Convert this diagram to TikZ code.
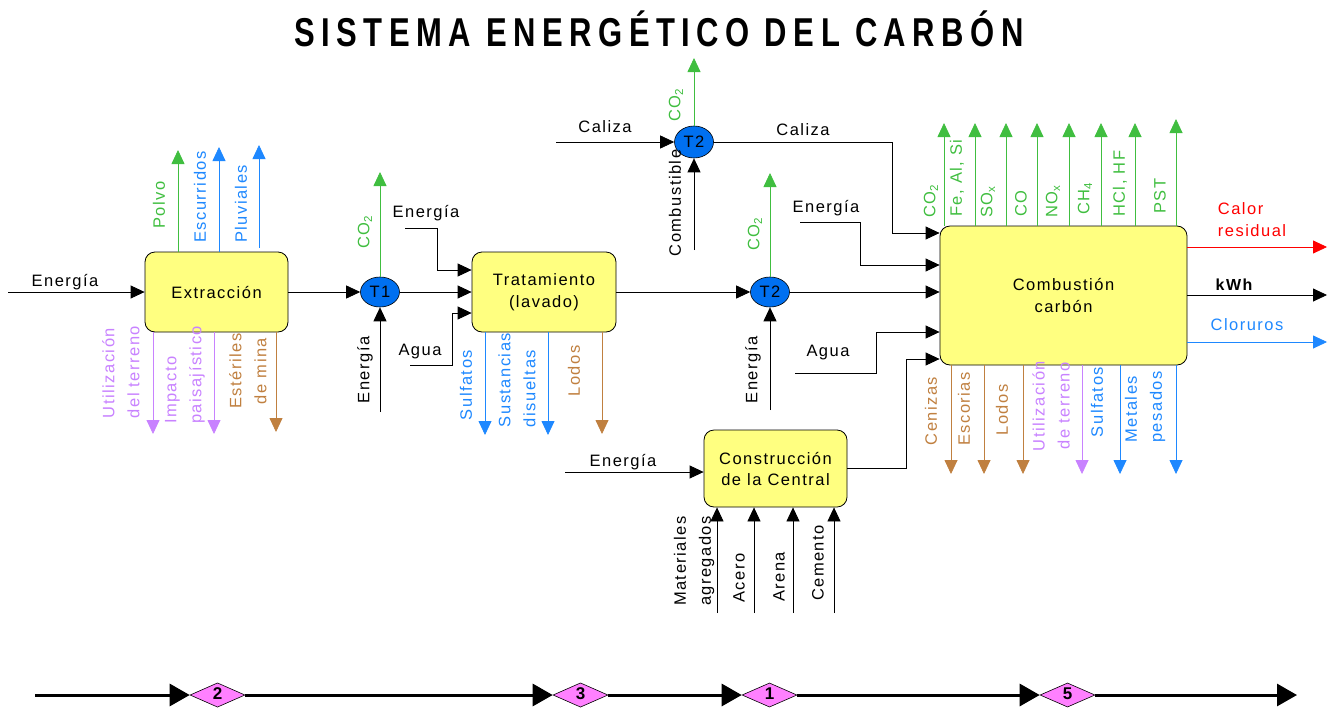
\documentclass[tikz,border=0pt]{standalone}
\usepackage{fontspec}
\setmainfont{Liberation Sans}[LetterSpace=9]
\newfontfamily\titlefont{Liberation Sans}[LetterSpace=21]
\usetikzlibrary{arrows.meta,shapes.geometric}
\definecolor{cgreen}{RGB}{64,190,64}
\definecolor{cblue}{RGB}{30,136,255}
\definecolor{cpurple}{RGB}{200,130,255}
\definecolor{cbrown}{RGB}{192,128,64}
\definecolor{cred}{RGB}{255,0,0}
\definecolor{boxyellow}{RGB}{255,255,128}
\definecolor{tblue}{RGB}{0,112,240}
\definecolor{dmag}{RGB}{255,128,255}
\begin{document}
\begin{tikzpicture}[x=1pt,y=-1pt,
  every node/.style={font=\fontsize{16.5}{22}\selectfont, inner sep=0pt},
  proc/.style={draw=black, fill=boxyellow, rounded corners=10pt, line width=0.8pt, align=center},
  tnode/.style={ellipse, draw=black, fill=tblue, minimum width=39pt, minimum height=30pt, line width=0.6pt},
  ar/.style={-{Triangle[length=14pt,width=13pt]}, line width=0.8pt},
  vl/.style={rotate=90, font=\fontsize{16.5}{25}\selectfont},
  dia/.style={diamond, draw=black, fill=dmag, minimum width=55pt, minimum height=22pt, line width=0.6pt, font=\fontsize{17}{17}\selectfont\bfseries},
  tl/.style={line width=3pt, -{Triangle[length=20pt,width=22pt]}}
]
\useasboundingbox (0,0) rectangle (1340,707);

% title
\node (title) at (659,29) {\scalebox{1}[1.3]{\titlefont\fontsize{31}{31}\selectfont\bfseries SISTEMA ENERGÉTICO DEL CARBÓN}};

% ---------------- Extraccion
\node[proc, minimum width=143pt, minimum height=80pt] (ext) at (216.5,292) {Extracción};
\coordinate (e_in) at (8,292);
\draw[ar] (e_in) -- (ext.west);
\node (l_e_in) at (65,282) {Energía};

\coordinate (polvo) at (178,150);
\coordinate (escu) at (219,147);
\coordinate (pluv) at (259,145);
\draw[ar,cgreen] (polvo |- ext.north) -- (polvo);
\draw[ar,cblue] (escu |- ext.north) -- (escu);
\draw[ar,cblue] ([yshift=4pt]pluv |- ext.north) -- (pluv);
\node[vl,text=cgreen] (l_polvo) at (159,205) {Polvo};
\node[vl,text=cblue] (l_escu) at (200,197) {Escurridos};
\node[vl,text=cblue] (l_pluv) at (241,204) {Pluviales};

\coordinate (utter) at (153,434);
\coordinate (impac) at (214,434);
\coordinate (ester) at (276,432);
\draw[ar,cpurple] (utter |- ext.south) -- (utter);
\draw[ar,cpurple] (impac |- ext.south) -- (impac);
\draw[ar,cbrown] (ester |- ext.south) -- (ester);
\node[vl,text=cpurple,align=left] (l_utter) at (121,372) {Utilización\\del terreno};
\node[vl,text=cpurple,align=left] (l_impac) at (185,375) {Impacto\\paisajístico};
\node[vl,text=cbrown,align=center] (l_ester) at (248,371) {Estériles\\de mina};

% ---------------- T1
\node[tnode] (t1) at (380,292) {T1};
\draw[ar] (ext.east) -- (t1.west);
\coordinate (t1co2) at (380,172);
\draw[ar,cgreen] (t1.north) -- (t1co2);
\node[vl,text=cgreen] (l_t1co2) at (365,232) {CO\textsubscript{2}};
\coordinate (t1e) at (380,412);
\draw[ar] (t1e) -- (t1.south);
\node[vl] (l_t1e) at (365,370) {Energía};

% ---------------- Tratamiento
\node[proc, minimum width=144pt, minimum height=80pt] (trat) at (544,292) {Tratamiento\\(lavado)};
\draw[ar] (t1.east) -- (trat.west);
\coordinate (tre) at (405,228);
\draw[ar] (tre) -- ++(32,0) |- ([yshift=22pt]trat.west);
\node (l_tre) at (426,213) {Energía};
\coordinate (tra) at (410,365);
\draw[ar] (tra) -- ++(42,0) |- ([yshift=-21pt]trat.west);
\node (l_tra) at (420,352) {Agua};

\coordinate (sulf1) at (485,435);
\coordinate (sust) at (548,435);
\coordinate (lodo1) at (602,434);
\draw[ar,cblue] (sulf1 |- trat.south) -- (sulf1);
\draw[ar,cblue] (sust |- trat.south) -- (sust);
\draw[ar,cbrown] (lodo1 |- trat.south) -- (lodo1);
\node[vl,text=cblue] (l_sulf1) at (466,385) {Sulfatos};
\node[vl,text=cblue,align=left] (l_sust) at (517,380) {Sustancias\\disueltas};
\node[vl,text=cbrown] (l_lodo1) at (574,371) {Lodos};

% ---------------- T2 middle
\node[tnode] (t2m) at (770,292) {T2};
\draw[ar] (trat.east) -- (t2m.west);
\coordinate (t2co2) at (770,173);
\draw[ar,cgreen] (t2m.north) -- (t2co2);
\node[vl,text=cgreen] (l_t2co2) at (755,234) {CO\textsubscript{2}};
\coordinate (t2e) at (770,410);
\draw[ar] (t2e) -- (t2m.south);
\node[vl] (l_t2e) at (753,370) {Energía};

% ---------------- T2 top
\node[tnode, minimum height=32pt] (t2t) at (694,142) {T2};
\coordinate (cal) at (556,142);
\draw[ar] (cal) -- (t2t.west);
\node (l_cal) at (605,127) {Caliza};
\coordinate (t3co2) at (694,58);
\draw[ar,cgreen] (t2t.north) -- (t3co2);
\node[vl,text=cgreen] (l_t3co2) at (676,105) {CO\textsubscript{2}};
\coordinate (comb_in) at (694,250);
\draw[ar] (comb_in) -- (t2t.south);
\node[vl] (l_comb_in) at (675,203) {Combustible};

% ---------------- Combustion
\node[proc, minimum width=247pt, minimum height=139pt] (comb) at (1063.5,295.5) {Combustión\\carbón};
\draw[ar] (t2m.east) -- (t2m -| comb.west);
\draw[ar] (t2t.east) -- ++(179,0) |- ([yshift=62.5pt]comb.west);
\node (l_cal2) at (803,130) {Caliza};
\coordinate (ce) at (800,222);
\draw[ar] (ce) -- ++(60,0) |- ([yshift=30.5pt]comb.west);
\node (l_ce) at (826,208) {Energía};
\coordinate (ca) at (795,373);
\draw[ar] (ca) -- ++(81,0) |- ([yshift=-36.5pt]comb.west);
\node (l_ca) at (828,353) {Agua};

% top emissions
\foreach \n/\x/\t in {a/944/123,b/975/123,c/1006/123,d/1037/123,e/1069/123,f/1101/123,g/1135/123,h/1176/119}{
  \coordinate (em\n) at (\x,\t);
  \draw[ar,cgreen] (em\n |- comb.north) -- (em\n);
}
\node[vl,text=cgreen,anchor=west] (l_ema) at (931,218) {CO\textsubscript{2}};
\node[vl,text=cgreen,anchor=west] (l_emb) at (957,217) {Fe, Al, Si};
\node[vl,text=cgreen,anchor=west] (l_emc) at (988,218) {SO\textsubscript{x}};
\node[vl,text=cgreen,anchor=west] (l_emd) at (1021,217) {CO};
\node[vl,text=cgreen,anchor=west] (l_eme) at (1053,218) {NO\textsubscript{x}};
\node[vl,text=cgreen,anchor=west] (l_emf) at (1085,215) {CH\textsubscript{4}};
\node[vl,text=cgreen,anchor=west] (l_emg) at (1120,217) {HCl, HF};
\node[vl,text=cgreen,anchor=west] (l_emh) at (1160,214) {PST};

% right outputs
\coordinate (calor) at (1327,247);
\coordinate (kwh) at (1327,295);
\coordinate (clor) at (1327,342);
\draw[ar,cred] (calor -| comb.east) -- (calor);
\draw[ar] (kwh -| comb.east) -- (kwh);
\draw[ar,cblue] (clor -| comb.east) -- (clor);
\node[text=cred,align=left] (l_calor) at (1252,220) {Calor\\residual};
\node[font=\fontsize{16}{22}\selectfont\bfseries] (l_kwh) at (1234,285) {kWh};
\node[text=cblue] (l_clor) at (1247,325) {Cloruros};

% bottom outputs
\coordinate (ceni) at (951,474);
\coordinate (esco) at (984,474);
\coordinate (lodo2) at (1023,474);
\coordinate (uter2) at (1082,474);
\coordinate (sulf2) at (1120,474);
\coordinate (meta) at (1176,474);
\draw[ar,cbrown] (ceni |- comb.south) -- (ceni);
\draw[ar,cbrown] (esco |- comb.south) -- (esco);
\draw[ar,cbrown] (lodo2 |- comb.south) -- (lodo2);
\draw[ar,cpurple] (uter2 |- comb.south) -- (uter2);
\draw[ar,cblue] (sulf2 |- comb.south) -- (sulf2);
\draw[ar,cblue] (meta |- comb.south) -- (meta);
\node[vl,text=cbrown] (l_ceni) at (931,411) {Cenizas};
\node[vl,text=cbrown] (l_esco) at (964,409) {Escorias};
\node[vl,text=cbrown] (l_lodo2) at (1002,410) {Lodos};
\node[vl,text=cpurple,align=center] (l_uter2) at (1051,406) {Utilización\\de terreno};
\node[vl,text=cblue] (l_sulf2) at (1097,402) {Sulfatos};
\node[vl,text=cblue,align=left] (l_meta) at (1145,407) {Metales\\pesados};

% ---------------- Construccion
\node[proc, minimum width=143pt, minimum height=77pt, font=\fontsize{16.5}{21}\selectfont] (cons) at (775.5,468.5) {Construcción\\de la Central};
\draw[ar] (cons.east) -- ++(59,0) |- ([yshift=-63.5pt]comb.west);
\coordinate (cne) at (565,472);
\draw[ar] (cne) -- (cne -| cons.west);
\node (l_cne) at (623,462) {Energía};
\foreach \n/\x in {mat/717,ace/754,are/793,cem/834}{
  \coordinate (\n) at (\x,613);
  \draw[ar] (\n) -- (\n |- cons.south);
}
\node[vl,align=left] (l_mat) at (694,561) {Materiales\\agregados};
\node[vl] (l_ace) at (739,578) {Acero};
\node[vl] (l_are) at (779,577) {Arena};
\node[vl] (l_cem) at (818,563) {Cemento};

% ---------------- timeline
\coordinate (tl0) at (35,695);
\coordinate (tlend) at (1297,695);
\node[dia] (d2) at (217.5,695) {\raisebox{3pt}{2}};
\node[dia] (d3) at (580.5,695) {\raisebox{3pt}{3}};
\node[dia] (d1) at (769.5,695) {\raisebox{3pt}{1}};
\node[dia] (d5) at (1067.5,695) {\raisebox{3pt}{5}};
\draw[tl] (tl0) -- (d2.west);
\draw[tl] (d2.east) -- (d3.west);
\draw[tl] (d3.east) -- (d1.west);
\draw[tl] (d1.east) -- (d5.west);
\draw[tl] (d5.east) -- (tlend);
\end{tikzpicture}
\end{document}
